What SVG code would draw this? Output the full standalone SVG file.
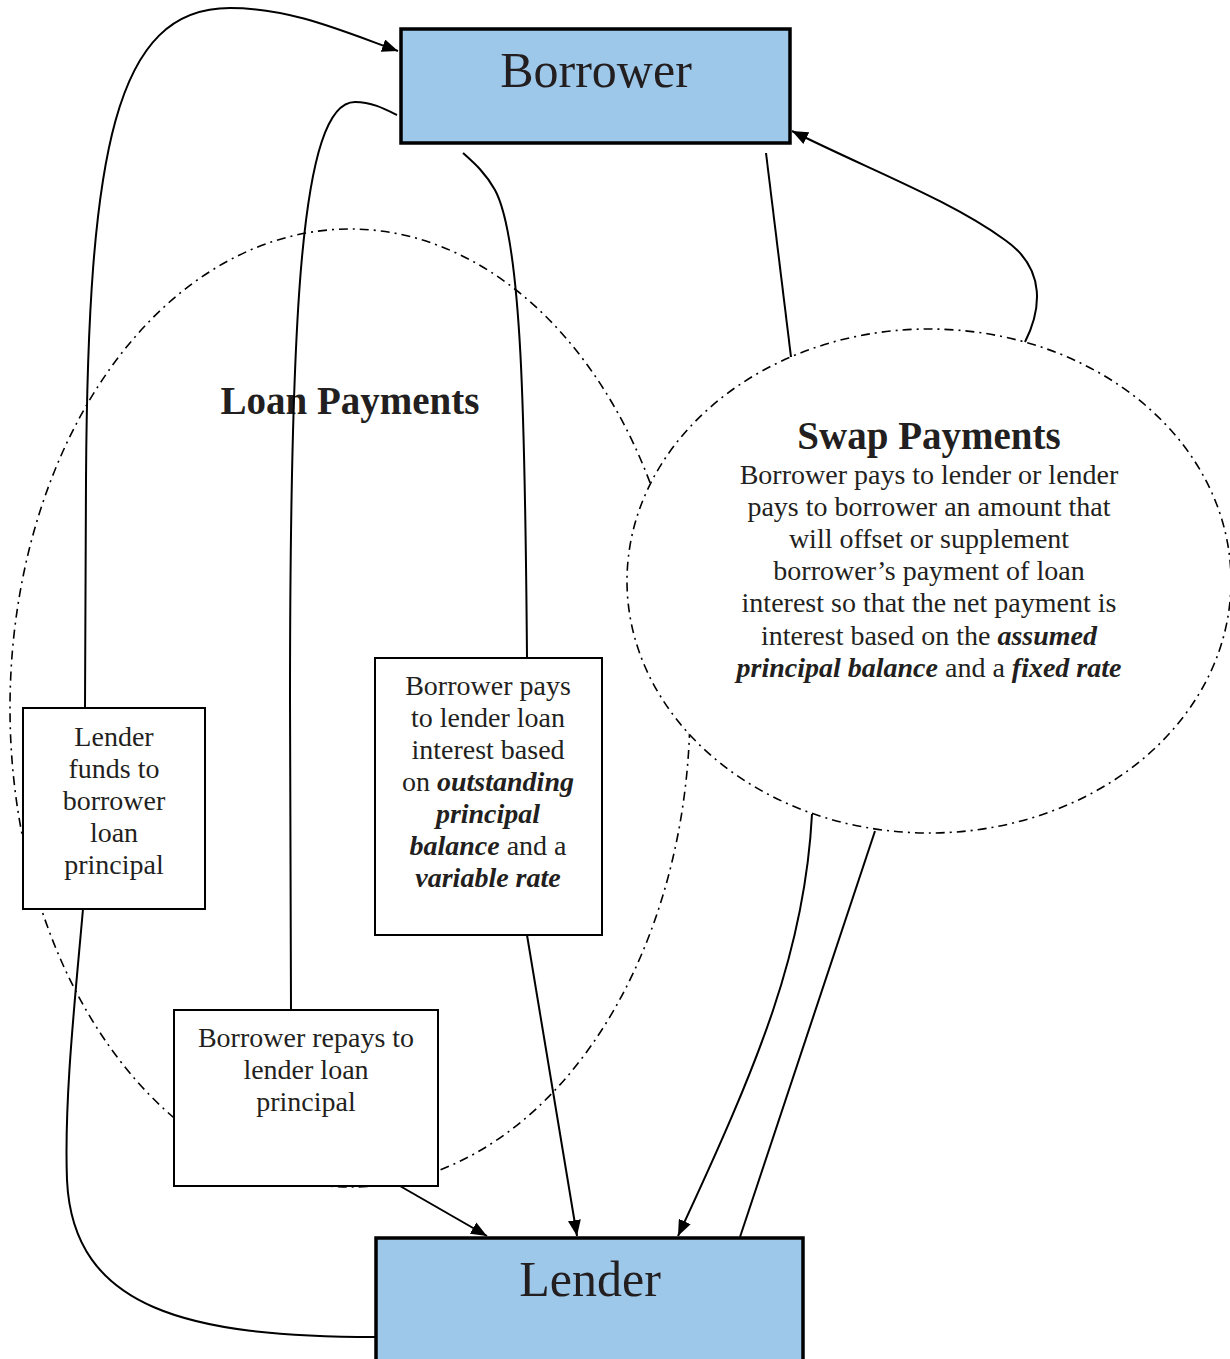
<svg xmlns="http://www.w3.org/2000/svg" width="1230" height="1359" viewBox="0 0 1230 1359">
<style>
  .t { font-family: "Liberation Serif", "Times New Roman", serif; fill: #231F20; text-anchor: middle; }
  .body { font-size: 28px; }
  .head { font-size: 39px; font-weight: bold; }
  .big { font-size: 50px; }
  .bi { font-weight: bold; font-style: italic; }
  .party { fill: #9DC8EA; stroke: #000; stroke-width: 3.5; }
  .box { fill: #fff; stroke: #000; stroke-width: 2; }
  .region { fill: none; stroke: #000; stroke-width: 1.6; stroke-dasharray: 9 5 2 5; }
  .conn path, .conn line { fill: none; stroke: #000; stroke-width: 2; }
</style>
<defs>
  <marker id="arr" viewBox="0 0 16 13" refX="16" refY="6.5" markerWidth="16" markerHeight="13" markerUnits="userSpaceOnUse" orient="auto">
    <path d="M0,0 L16,6.5 L0,13 Z" fill="#000"/>
  </marker>
</defs>
<rect width="1230" height="1359" fill="#fff"/>

<g id="loan-payments">
  <ellipse class="region" cx="350" cy="708" rx="340" ry="479"/>
  <text class="t head" x="350" y="414">Loan Payments</text>
</g>

<g id="swap-payments">
  <ellipse class="region" cx="929" cy="581" rx="302" ry="252" style="fill:#fff"/>
  <text class="t head" x="929" y="449">Swap Payments</text>
  <text class="t body" x="929" y="484">Borrower pays to lender or lender</text>
  <text class="t body" x="929" y="516">pays to borrower an amount that</text>
  <text class="t body" x="929" y="548">will offset or supplement</text>
  <text class="t body" x="929" y="580">borrower’s payment of loan</text>
  <text class="t body" x="929" y="612">interest so that the net payment is</text>
  <text class="t body" x="929" y="645">interest based on the <tspan class="bi">assumed</tspan></text>
  <text class="t body" x="929" y="677"><tspan class="bi">principal balance</tspan> and a <tspan class="bi">fixed rate</tspan></text>
</g>

<g id="connectors" class="conn">
  <path d="M85,708 L86,480 C88,150 115,8 230,8 C290,8 340,30 398,51" marker-end="url(#arr)"/>
  <path d="M83,909 C75,1000 64,1100 67,1180 C73,1310 190,1337 376,1337"/>
  <path d="M291,1010 L290,700 C290,320 300,102 355,102 C372,102 385,109 397,115"/>
  <path d="M527,657 C525,420 522,240 495,190 C485,172 473,162 463,153"/>
  <path d="M527,935 L577,1236" marker-end="url(#arr)"/>
  <path d="M400,1186 L487,1236" marker-end="url(#arr)"/>
  <path d="M791,357 L766,153"/>
  <path d="M1025,342 C1040,312 1048,270 1005,240 C950,200 870,170 792,131" marker-end="url(#arr)"/>
  <path d="M812,814 C805,950 760,1060 678,1236" marker-end="url(#arr)"/>
  <path d="M875,831 L740,1237"/>
</g>

<g id="borrower">
  <rect class="party" x="401" y="29" width="389" height="114"/>
  <text class="t big" x="596" y="87">Borrower</text>
</g>

<g id="lender">
  <rect class="party" x="376" y="1238" width="427" height="130"/>
  <text class="t big" x="590" y="1296">Lender</text>
</g>

<g id="lender-funds">
  <rect class="box" x="23" y="708" width="182" height="201"/>
  <text class="t body" x="114" y="746">Lender</text>
  <text class="t body" x="114" y="778">funds to</text>
  <text class="t body" x="114" y="810">borrower</text>
  <text class="t body" x="114" y="842">loan</text>
  <text class="t body" x="114" y="874">principal</text>
</g>

<g id="borrower-pays-interest">
  <rect class="box" x="375" y="658" width="227" height="277"/>
  <text class="t body" x="488" y="695">Borrower pays</text>
  <text class="t body" x="488" y="727">to lender loan</text>
  <text class="t body" x="488" y="759">interest based</text>
  <text class="t body" x="488" y="791">on <tspan class="bi">outstanding</tspan></text>
  <text class="t body bi" x="488" y="823">principal</text>
  <text class="t body" x="488" y="855"><tspan class="bi">balance</tspan> and a</text>
  <text class="t body bi" x="488" y="887">variable rate</text>
</g>

<g id="borrower-repays">
  <rect class="box" x="174" y="1010" width="264" height="176"/>
  <text class="t body" x="306" y="1047">Borrower repays to</text>
  <text class="t body" x="306" y="1079">lender loan</text>
  <text class="t body" x="306" y="1111">principal</text>
</g>
</svg>
